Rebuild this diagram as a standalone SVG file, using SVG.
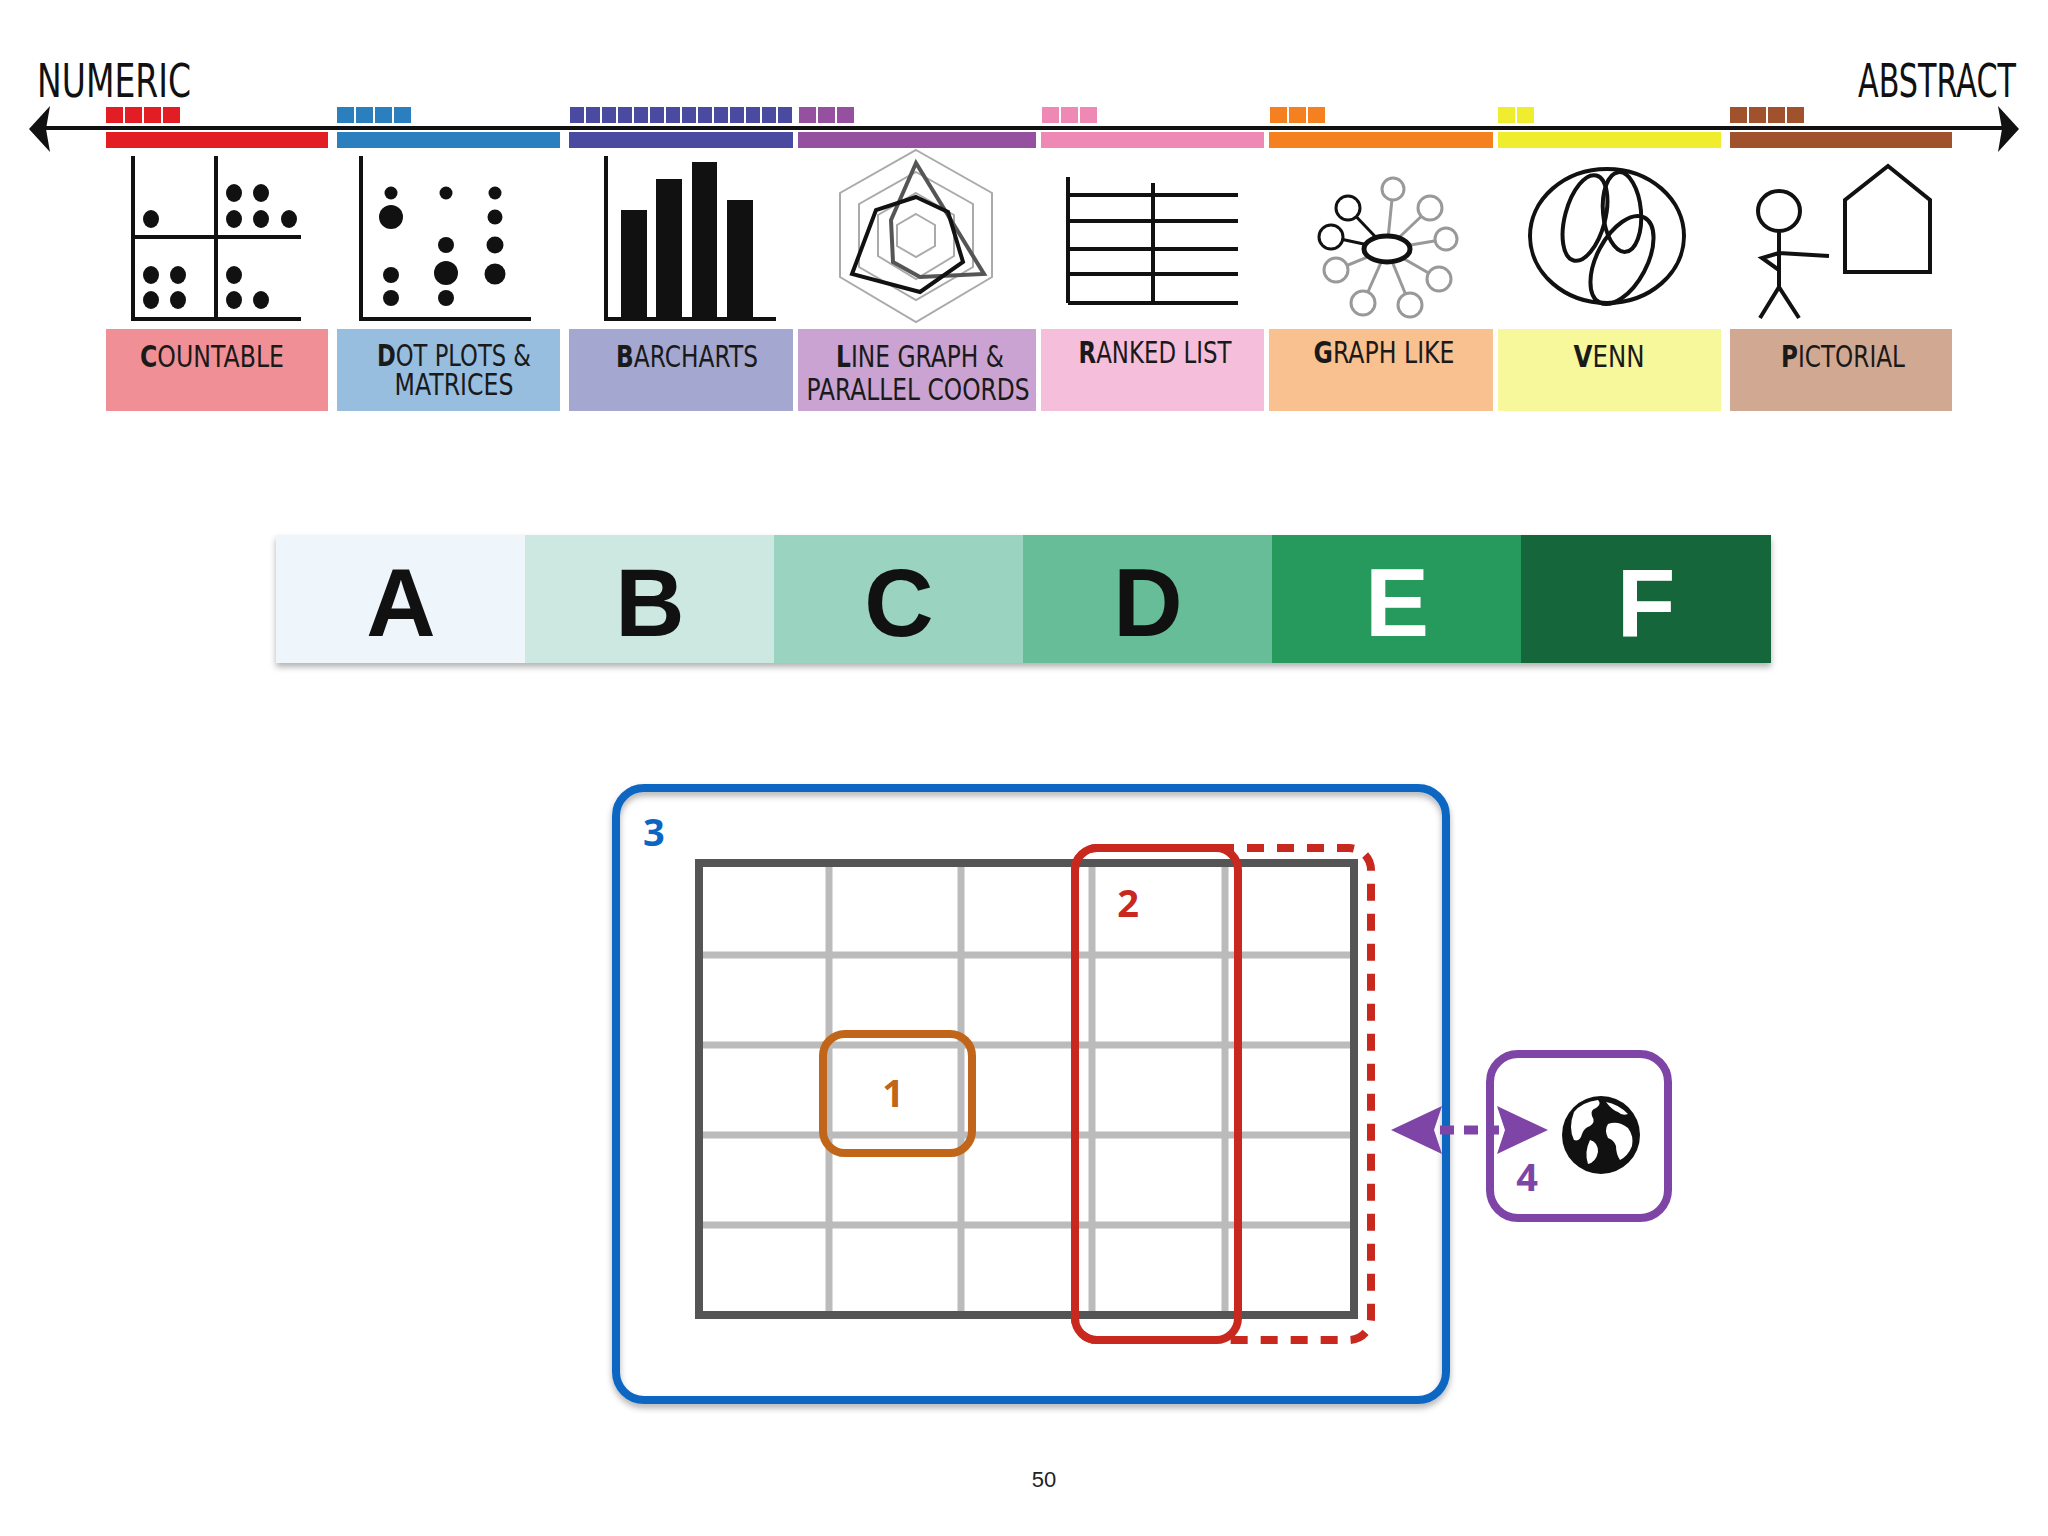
<svg xmlns="http://www.w3.org/2000/svg" width="2048" height="1536" viewBox="0 0 2048 1536">
<defs>
<style>
.lbl{font-family:"DejaVu Sans",sans-serif;font-size:30px;fill:#1a1a1a;text-anchor:middle}
.b{font-weight:bold}
.ax{font-family:"DejaVu Sans",sans-serif;font-size:46px;fill:#111}
.grade{font-family:"Liberation Sans",sans-serif;font-weight:bold;font-size:96px;text-anchor:middle}
.num{font-family:"Open Sans","Liberation Sans",sans-serif;font-weight:bold;font-size:38px}
.ic{fill:none;stroke:#111;stroke-width:4}
.dot{fill:#111}
.gl{stroke:#bbb;stroke-width:7}
</style>
<filter id="sh" x="-5%" y="-5%" width="110%" height="120%"><feDropShadow dx="0" dy="4" stdDeviation="3" flood-color="#000" flood-opacity="0.3"/></filter>
</defs>
<rect width="2048" height="1536" fill="#fff"/>

<g id="axis">
<line x1="40" y1="128" x2="2010" y2="128" stroke="#111" stroke-width="4"/>
<polygon points="29,129 50,106 46,129 50,152" fill="#111"/>
<polygon points="2019,129 1998,106 2002,129 1998,152" fill="#111"/>
<text class="ax" x="37" y="97" textLength="154" lengthAdjust="spacingAndGlyphs">NUMERIC</text>
<text class="ax" x="1858" y="97" textLength="158" lengthAdjust="spacingAndGlyphs">ABSTRACT</text>
</g>

<g id="bars">
<rect x="106" y="132" width="222" height="16" fill="#e31d24"/>
<rect x="337" y="132" width="223" height="16" fill="#2c7fbf"/>
<rect x="569" y="132" width="224" height="16" fill="#4a4aa0"/>
<rect x="798" y="132" width="238" height="16" fill="#9650a0"/>
<rect x="1041" y="132" width="223" height="16" fill="#ee88b5"/>
<rect x="1269" y="132" width="224" height="16" fill="#f4801f"/>
<rect x="1498" y="132" width="223" height="16" fill="#f0ec2e"/>
<rect x="1730" y="132" width="222" height="16" fill="#a0522d"/>
</g>

<g id="squares">
<g fill="#e31d24"><rect x="106" y="107" width="17" height="16"/><rect x="125" y="107" width="17" height="16"/><rect x="144" y="107" width="17" height="16"/><rect x="163" y="107" width="17" height="16"/></g>
<g fill="#2c7fbf"><rect x="337" y="107" width="17" height="16"/><rect x="356" y="107" width="17" height="16"/><rect x="375" y="107" width="17" height="16"/><rect x="394" y="107" width="17" height="16"/></g>
<g fill="#4a4aa0">
<rect x="570" y="107" width="14" height="16"/><rect x="586" y="107" width="14" height="16"/><rect x="602" y="107" width="14" height="16"/><rect x="618" y="107" width="14" height="16"/><rect x="634" y="107" width="14" height="16"/><rect x="650" y="107" width="14" height="16"/><rect x="666" y="107" width="14" height="16"/><rect x="682" y="107" width="14" height="16"/><rect x="698" y="107" width="14" height="16"/><rect x="714" y="107" width="14" height="16"/><rect x="730" y="107" width="14" height="16"/><rect x="746" y="107" width="14" height="16"/><rect x="762" y="107" width="14" height="16"/><rect x="778" y="107" width="14" height="16"/></g>
<g fill="#9650a0"><rect x="799" y="107" width="17" height="16"/><rect x="818" y="107" width="17" height="16"/><rect x="837" y="107" width="17" height="16"/></g>
<g fill="#ee88b5"><rect x="1042" y="107" width="17" height="16"/><rect x="1061" y="107" width="17" height="16"/><rect x="1080" y="107" width="17" height="16"/></g>
<g fill="#f4801f"><rect x="1270" y="107" width="17" height="16"/><rect x="1289" y="107" width="17" height="16"/><rect x="1308" y="107" width="17" height="16"/></g>
<g fill="#f0ec2e"><rect x="1498" y="107" width="17" height="16"/><rect x="1517" y="107" width="17" height="16"/></g>
<g fill="#a0522d"><rect x="1730" y="107" width="17" height="16"/><rect x="1749" y="107" width="17" height="16"/><rect x="1768" y="107" width="17" height="16"/><rect x="1787" y="107" width="17" height="16"/></g>
</g>

<g id="icon-countable">
<path class="ic" d="M133,156 V319 H301 M216,156 V319 M133,237 H301"/>
<g class="dot"><ellipse cx="151" cy="219" rx="8" ry="9"/><ellipse cx="234" cy="193" rx="8" ry="9"/><ellipse cx="261" cy="193" rx="8" ry="9"/><ellipse cx="234" cy="219" rx="8" ry="9"/><ellipse cx="261" cy="219" rx="8" ry="9"/><ellipse cx="289" cy="219" rx="8" ry="9"/><ellipse cx="151" cy="275" rx="8" ry="9"/><ellipse cx="178" cy="275" rx="8" ry="9"/><ellipse cx="151" cy="300" rx="8" ry="9"/><ellipse cx="178" cy="300" rx="8" ry="9"/><ellipse cx="234" cy="275" rx="8" ry="9"/><ellipse cx="234" cy="300" rx="8" ry="9"/><ellipse cx="261" cy="300" rx="8" ry="9"/></g>
</g>
<g id="icon-dots">
<path class="ic" d="M361,156 V319 H531"/>
<g class="dot"><circle cx="391" cy="193" r="6.5"/><circle cx="391" cy="217" r="12"/><circle cx="391" cy="275" r="8"/><circle cx="391" cy="298" r="8"/><circle cx="446" cy="193" r="6.5"/><circle cx="446" cy="245" r="8"/><circle cx="446" cy="273" r="12"/><circle cx="446" cy="298" r="8"/><circle cx="495" cy="193" r="6.5"/><circle cx="495" cy="217" r="7.5"/><circle cx="495" cy="245" r="8.5"/><circle cx="495" cy="274" r="10.5"/></g>
</g>
<g id="icon-bar">
<path class="ic" d="M606,156 V319 H776"/>
<g class="dot"><rect x="621" y="210" width="26" height="109"/><rect x="656" y="179" width="26" height="140"/><rect x="692" y="162" width="25" height="157"/><rect x="727" y="200" width="26" height="119"/></g>
</g>
<g id="icon-radar" fill="none">
<polygon points="916,150 992,193 992,277 916,322 840,277 840,193" stroke="#aaa" stroke-width="2"/>
<polygon points="916,172 973,204 973,267 916,300 859,267 859,204" stroke="#aaa" stroke-width="2"/>
<polygon points="916,193 954,215 954,256 916,279 878,256 878,215" stroke="#aaa" stroke-width="2"/>
<polygon points="916,214 935,225 935,246 916,257 897,246 897,225" stroke="#aaa" stroke-width="2"/>
<polygon points="916,163 984,274 920,277 893,262 891,220" stroke="#555" stroke-width="4"/>
<polygon points="916,197 948,212 963,262 920,292 852,274 876,210" stroke="#111" stroke-width="4"/>
</g>
<g id="icon-ranked">
<path class="ic" d="M1068,177 V303 M1153,183 V303 M1068,195 H1238 M1068,221 H1238 M1068,249 H1238 M1068,274 H1238 M1068,303 H1238" stroke-width="5"/>
</g>
<g id="icon-graph" fill="none" stroke-width="3">
<g stroke="#999"><line x1="1387" y1="249" x2="1393" y2="189"/><line x1="1387" y1="249" x2="1430" y2="208"/><line x1="1387" y1="249" x2="1446" y2="239"/><line x1="1387" y1="249" x2="1439" y2="279"/><line x1="1387" y1="249" x2="1410" y2="305"/><line x1="1387" y1="249" x2="1363" y2="303"/><line x1="1387" y1="249" x2="1336" y2="270"/>
<circle cx="1393" cy="189" r="11" fill="#fff"/><circle cx="1430" cy="208" r="12" fill="#fff"/><circle cx="1446" cy="239" r="11" fill="#fff"/><circle cx="1439" cy="279" r="12" fill="#fff"/><circle cx="1410" cy="305" r="12" fill="#fff"/><circle cx="1363" cy="303" r="12" fill="#fff"/><circle cx="1336" cy="270" r="12" fill="#fff"/></g>
<g stroke="#111"><line x1="1387" y1="249" x2="1348" y2="208"/><line x1="1387" y1="249" x2="1331" y2="237"/><circle cx="1348" cy="208" r="12" fill="#fff"/><circle cx="1331" cy="237" r="12" fill="#fff"/><ellipse cx="1387" cy="249" rx="23" ry="13" stroke-width="5" fill="#fff"/></g>
</g>
<g id="icon-venn" class="ic">
<ellipse cx="1607" cy="236" rx="77" ry="67"/>
<ellipse cx="1585" cy="218" rx="20" ry="44" transform="rotate(15 1585 218)"/>
<ellipse cx="1622" cy="212" rx="19" ry="40" transform="rotate(-5 1622 212)"/>
<ellipse cx="1622" cy="260" rx="25" ry="48" transform="rotate(28 1622 260)"/>
</g>
<g id="icon-pict" class="ic">
<ellipse cx="1779" cy="211" rx="21" ry="20"/>
<path d="M1779,231 V287 L1760,318 M1779,287 L1799,318 M1779,253 L1829,256 M1779,253 L1762,258 L1779,270"/>
<polygon points="1888,166 1930,200 1930,272 1845,272 1845,200"/>
</g>

<g id="labels">
<rect x="106" y="329" width="222" height="82" fill="#f09096"/>
<rect x="337" y="329" width="223" height="82" fill="#98bedf"/>
<rect x="569" y="329" width="224" height="82" fill="#a4a8d0"/>
<rect x="798" y="329" width="238" height="82" fill="#cba3d2"/>
<rect x="1041" y="329" width="223" height="82" fill="#f5bfdc"/>
<rect x="1269" y="329" width="224" height="82" fill="#f9c090"/>
<rect x="1498" y="329" width="223" height="82" fill="#f7f79c"/>
<rect x="1730" y="329" width="222" height="82" fill="#d1a891"/>
<text class="lbl" x="212" y="367" textLength="144" lengthAdjust="spacingAndGlyphs"><tspan class="b">C</tspan>OUNTABLE</text>
<text class="lbl" x="454" y="366" textLength="154" lengthAdjust="spacingAndGlyphs"><tspan class="b">D</tspan>OT PLOTS &amp;</text>
<text class="lbl" x="454" y="395" textLength="119" lengthAdjust="spacingAndGlyphs">MATRICES</text>
<text class="lbl" x="687" y="367" textLength="142" lengthAdjust="spacingAndGlyphs"><tspan class="b">B</tspan>ARCHARTS</text>
<text class="lbl" x="920" y="367" textLength="168" lengthAdjust="spacingAndGlyphs"><tspan class="b">L</tspan>INE GRAPH &amp;</text>
<text class="lbl" x="918" y="400" textLength="223" lengthAdjust="spacingAndGlyphs">PARALLEL COORDS</text>
<text class="lbl" x="1155" y="363" textLength="153" lengthAdjust="spacingAndGlyphs"><tspan class="b">R</tspan>ANKED LIST</text>
<text class="lbl" x="1384" y="363" textLength="141" lengthAdjust="spacingAndGlyphs"><tspan class="b">G</tspan>RAPH LIKE</text>
<text class="lbl" x="1609" y="367" textLength="71" lengthAdjust="spacingAndGlyphs"><tspan class="b">V</tspan>ENN</text>
<text class="lbl" x="1843" y="367" textLength="124" lengthAdjust="spacingAndGlyphs"><tspan class="b">P</tspan>ICTORIAL</text>
</g>

<g id="grades" filter="url(#sh)">
<rect x="276" y="535" width="250" height="128" fill="#eef6fb"/>
<rect x="525" y="535" width="250" height="128" fill="#cde8e1"/>
<rect x="774" y="535" width="250" height="128" fill="#9ad3c0"/>
<rect x="1023" y="535" width="250" height="128" fill="#66bd98"/>
<rect x="1272" y="535" width="250" height="128" fill="#259a5c"/>
<rect x="1521" y="535" width="250" height="128" fill="#17663a"/>
</g>
<g id="grade-text">
<text class="grade" x="401" y="636" fill="#111">A</text>
<text class="grade" x="650" y="636" fill="#111">B</text>
<text class="grade" x="899" y="636" fill="#111">C</text>
<text class="grade" x="1148" y="636" fill="#111">D</text>
<text class="grade" x="1397" y="636" fill="#fff">E</text>
<text class="grade" x="1646" y="636" fill="#fff">F</text>
</g>

<g id="node-3">
<rect x="616" y="788" width="830" height="612" rx="28" fill="none" stroke="#0a66c2" stroke-width="8" filter="url(#sh)"/>
<text class="num" x="643" y="846" fill="#0a66c2">3</text>
</g>
<g id="grid">
<path class="gl" d="M829,863 V1315 M961,863 V1315 M1092,863 V1315 M1225,863 V1315 M699,955 H1354 M699,1045 H1354 M699,1135 H1354 M699,1225 H1354"/>
<rect x="699" y="863" width="655" height="452" fill="none" stroke="#555" stroke-width="8"/>
</g>
<g id="node-1">
<rect x="823" y="1034" width="149" height="119" rx="22" fill="none" stroke="#c0651a" stroke-width="8"/>
<text class="num" x="893" y="1107" fill="#c0651a" text-anchor="middle">1</text>
</g>
<g id="node-2">
<rect x="1075" y="848" width="296" height="492" rx="22" fill="none" stroke="#c8281e" stroke-width="8" stroke-dasharray="17 13"/>
<rect x="1075" y="848" width="163" height="492" rx="22" fill="none" stroke="#c8281e" stroke-width="8"/>
<text class="num" x="1128" y="917" fill="#c8281e" text-anchor="middle">2</text>
</g>
<g id="node-4">
<rect x="1490" y="1054" width="178" height="164" rx="28" fill="none" stroke="#7e44a6" stroke-width="8"/>
<text class="num" x="1527" y="1191" fill="#7e44a6" text-anchor="middle">4</text>
<circle cx="1601" cy="1135" r="39" fill="#111"/>
<path d="M1574,1112 q8,-10 24,-12 q4,4 -2,8 q-6,2 -4,8 q4,6 -2,10 q-6,2 -8,8 q-2,8 -8,6 q-6,-12 0,-28 z M1606,1102 q12,2 22,12 q-6,2 -10,-2 q-6,-2 -12,-10 z M1608,1124 q10,-4 20,4 q6,8 4,18 q-4,10 -12,14 q-4,-6 -4,-14 q-2,-6 -8,-8 q-4,-8 0,-14 z M1590,1140 q8,2 8,12 q-2,10 -10,12 q-4,-12 2,-24 z" fill="#fff"/>
</g>
<g id="connectors">
<line x1="1440" y1="1130" x2="1499" y2="1130" stroke="#7e44a6" stroke-width="9" stroke-dasharray="14 10"/>
<polygon points="1391,1130 1442,1106 1434,1130 1442,1154" fill="#7e44a6"/>
<polygon points="1548,1130 1497,1106 1505,1130 1497,1154" fill="#7e44a6"/>
</g>
<text x="1044" y="1487" font-family="Liberation Sans, sans-serif" font-size="22" fill="#222" text-anchor="middle">50</text>
</svg>
